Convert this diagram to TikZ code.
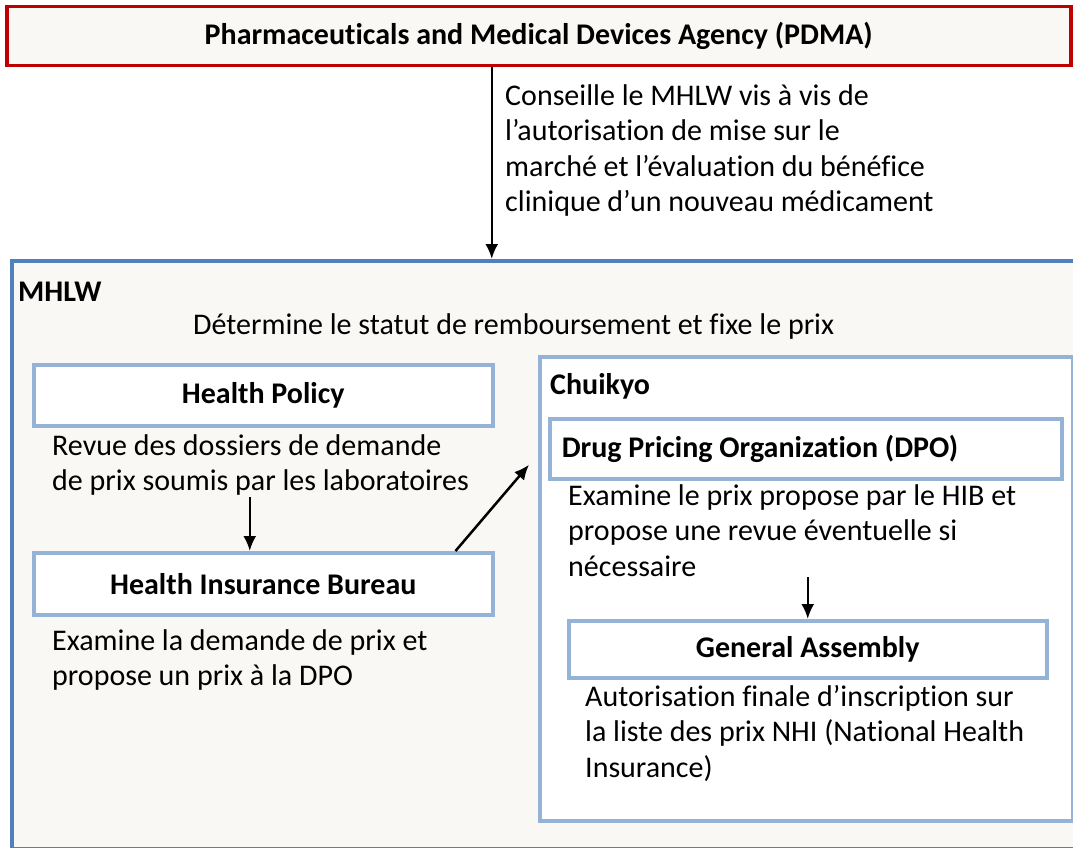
\documentclass[tikz,border=0pt]{standalone}
\usepackage{fontspec}
\setmainfont{Carlito}[Ligatures=NoCommon]
\usetikzlibrary{arrows.meta}
\definecolor{pdmared}{HTML}{C00000}
\definecolor{mhlwblue}{HTML}{4F81BD}
\definecolor{boxblue}{HTML}{95B3D7}
\definecolor{paper}{HTML}{F9F8F5}

\begin{document}
\begin{tikzpicture}[x=1pt,y=-1pt,
    every node/.style={font=\fontsize{30}{35.5}\selectfont},
    frame/.style={draw=#1,line width=3.5pt,anchor=north west,inner sep=0pt},
    title/.style={font=\fontsize{30}{35.5}\selectfont\bfseries},
    txt/.style={anchor=north west,align=left,inner sep=0pt},
    arr/.style={-{Latex[length=15pt,width=13pt]},line width=2.5pt}]
\useasboundingbox (0,0) rectangle (1073,848);

\node (mhlw) [frame=mhlwblue,fill=paper,minimum width=1070pt,minimum height=588pt] at (10,259) {};
\node (pdma) [frame=pdmared,fill=paper,minimum width=1064pt,minimum height=59pt,title] at (5,5)
    {Pharmaceuticals and Medical Devices Agency (PDMA)};
\node (pdt) [txt] at (505,84) {Conseille le MHLW vis à vis de\\l’autorisation de mise sur le\\marché et l’évaluation du bénéfice\\clinique d’un nouveau médicament};

\node (mhlwl) [txt,title] at (18,282) {MHLW};
\node (det) [txt] at (193,313) {Détermine le statut de remboursement et fixe le prix};
\node (hp) [frame=boxblue,fill=white,minimum width=459pt,minimum height=61pt,title] at (32,363) {Health Policy};
\node (hpt) [txt] at (52,434) {Revue des dossiers de demande\\de prix soumis par les laboratoires};
\node (hib) [frame=boxblue,fill=white,minimum width=459pt,minimum height=62pt,title] at (32,551) {Health Insurance Bureau};
\node (hibt) [txt] at (52,629) {Examine la demande de prix et\\propose un prix à la DPO};

\node (chu) [frame=boxblue,fill=white,minimum width=533pt,minimum height=464pt] at (538,355) {};
\node (chul) [txt,title] at (550,373) {Chuikyo};
\node (dpo) [frame=boxblue,title,text width=488pt,inner xsep=12pt,align=flush left,minimum height=60pt] at (548,417)
    {Drug Pricing Organization (DPO)};
\node (dpot) [txt] at (568,484) {Examine le prix propose par le HIB et\\propose une revue éventuelle si\\nécessaire};
\node (ga) [frame=boxblue,minimum width=478pt,minimum height=57pt,title] at (567,619) {General Assembly};
\node (gat) [txt] at (585,685) {Autorisation finale d’inscription sur\\la liste des prix NHI (National Health\\Insurance)};

\path (pdma.south) ++(-47,0) coordinate (pdo);
\draw[arr] (pdo) -- (pdo |- mhlw.north);
\path (hib.north) ++(-13.5,-54) coordinate (hpo);
\draw[arr] (hpo) -- (hpo |- hib.north);
\path (hib.north east) ++(-39,0) coordinate (hibo);
\path (dpo.west) ++(-19,16) coordinate (dpi);
\draw[arr] (hibo) -- (dpi);
\path (ga.north) ++(0,-42) coordinate (dpoo);
\draw[arr] (dpoo) -- (ga.north);
\end{tikzpicture}
\end{document}
